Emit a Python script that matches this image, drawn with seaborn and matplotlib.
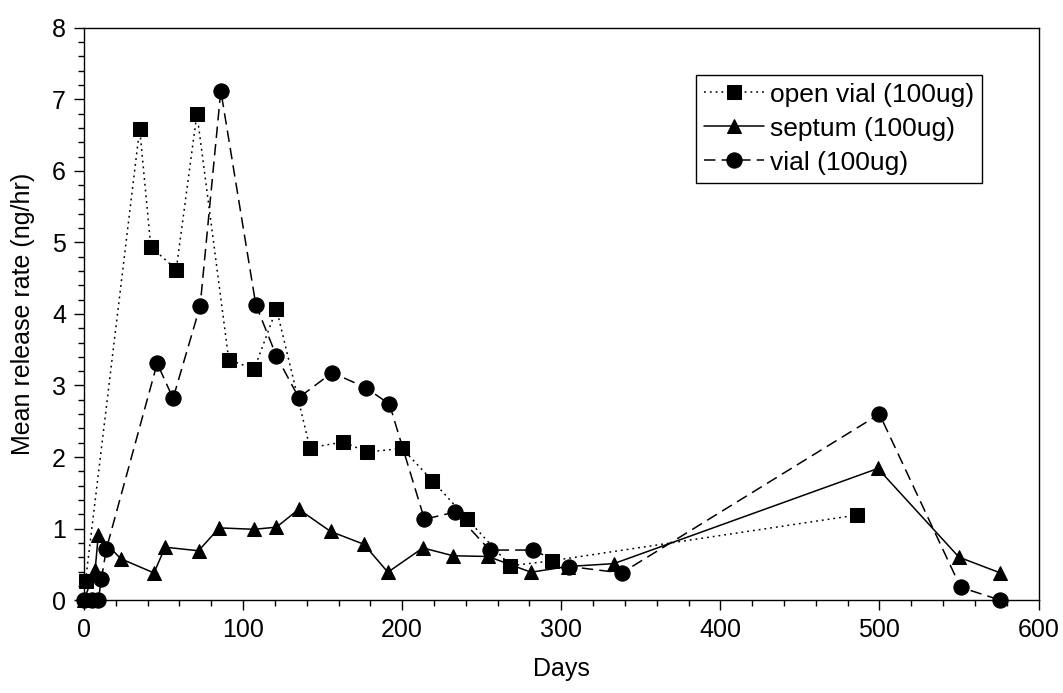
import numpy as np
import pandas as pd
import matplotlib
matplotlib.use('Agg')
import matplotlib.pyplot as plt
from matplotlib.ticker import MultipleLocator
import seaborn as sns

# values
open_days = [1, 35, 42, 58, 71, 91, 107, 121, 142, 163, 178, 200, 219, 241, 268, 294, 486]
open_rate = [0.27, 6.59, 4.94, 4.62, 6.80, 3.36, 3.23, 4.07, 2.13, 2.21, 2.07, 2.12, 1.67, 1.13, 0.48, 0.55, 1.19]

septum_days = [0, 7, 9, 23, 44, 51, 72, 85, 107, 121, 135, 155, 176, 191, 213, 232, 254, 281, 304, 333, 499, 550, 576]
septum_rate = [0.0, 0.42, 0.91, 0.58, 0.38, 0.74, 0.69, 1.01, 0.99, 1.02, 1.27, 0.96, 0.78, 0.39, 0.73, 0.62, 0.61, 0.39, 0.47, 0.51, 1.84, 0.60, 0.38]

vial_days = [0, 5, 9, 11, 14, 46, 56, 73, 86, 108, 121, 135, 156, 177, 192, 214, 233, 255, 282, 305, 338, 500, 551, 576]
vial_rate = [0.0, 0.0, 0.0, 0.30, 0.71, 3.31, 2.82, 4.11, 7.12, 4.13, 3.41, 2.83, 3.18, 2.97, 2.74, 1.13, 1.23, 0.70, 0.70, 0.47, 0.38, 2.60, 0.18, 0.0]

labels = ['open vial (100ug)', 'septum (100ug)', 'vial (100ug)']

sns.set_style('ticks')
plt.rcParams['font.family'] = ['Liberation Sans', 'DejaVu Sans']
plt.rcParams['font.size'] = 18
for k in ['text.color', 'axes.labelcolor', 'xtick.color', 'ytick.color']:
    plt.rcParams[k] = 'black'

fig = plt.figure(figsize=(10.63, 6.93), dpi=100)
ax = fig.add_axes([0.079, 0.134, 0.898, 0.826])

series = [
    (open_days, open_rate, 's', 10, (1.2, 2.6)),
    (septum_days, septum_rate, '^', 10, ''),
    (vial_days, vial_rate, 'o', 11, (7.5, 4)),
]
for (d, r, mk, ms, dash), lab in zip(series, labels):
    df = pd.DataFrame({'Days': d, 'rate': r})
    line_kws = dict(marker=mk, markersize=ms, color='black', linewidth=1.1,
                    markeredgecolor='black', markerfacecolor='black', clip_on=False)
    if dash:
        line_kws['dashes'] = dash
    sns.lineplot(data=df, x='Days', y='rate', estimator=None, sort=False,
                 label=lab, ax=ax, **line_kws)

ax.set_xlim(0, 600)
ax.set_ylim(0, 8)
ax.xaxis.set_major_locator(MultipleLocator(100))
ax.xaxis.set_minor_locator(MultipleLocator(20))
ax.yaxis.set_major_locator(MultipleLocator(1))
ax.yaxis.set_minor_locator(MultipleLocator(0.2))
ax.tick_params(which='major', length=7, width=1, color='black', labelcolor='black',
               labelsize=18, pad=6)
ax.tick_params(which='minor', length=4, width=1, color='black')
ax.tick_params(top=False, right=False)
for sp in ax.spines.values():
    sp.set_visible(True)
    sp.set_color('black')
    sp.set_linewidth(1)

ax.set_xlabel('Days', fontsize=18, labelpad=11, color='black')
ax.set_ylabel('Mean release rate (ng/hr)', fontsize=18, labelpad=12, color='black')

leg = ax.legend(loc='upper left', bbox_to_anchor=(0.641, 0.918), fontsize=19,
                frameon=True, fancybox=False, edgecolor='black', framealpha=1,
                handlelength=2.3, handletextpad=0.2, labelspacing=0.38,
                borderpad=0.3, borderaxespad=0)
leg.get_frame().set_linewidth(1)
for t in leg.get_texts():
    t.set_color('black')

fig.savefig('out.png', dpi=100)
